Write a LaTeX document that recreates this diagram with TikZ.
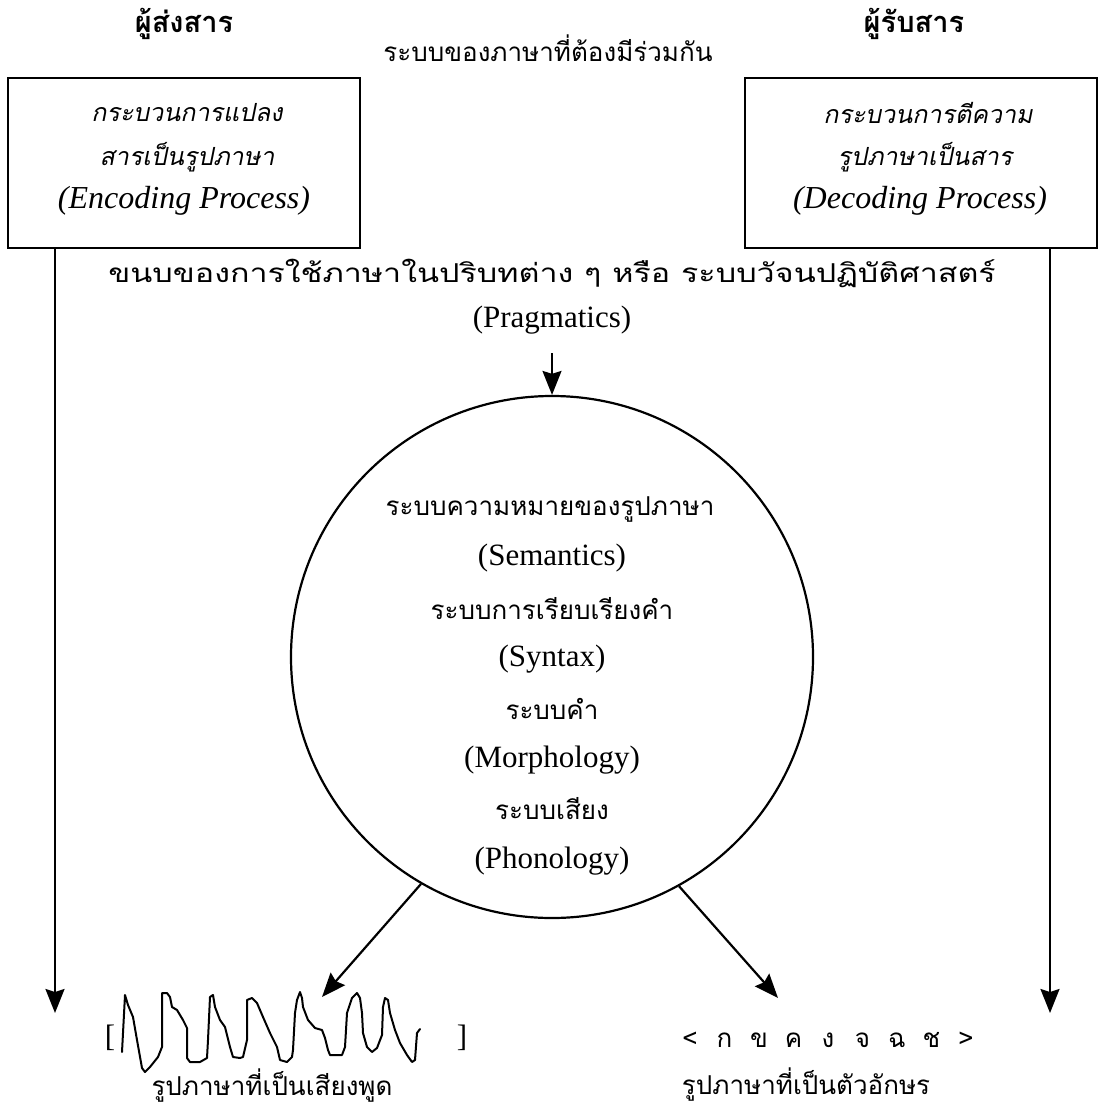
\documentclass[tikz,border=0pt]{standalone}
\usepackage{fontspec}
\setmainfont{Liberation Serif}
\newfontfamily\thai[Script=Thai]{Loma}
\newfontfamily\thaiit[Script=Thai,FakeSlant=0.2]{Loma}
\usetikzlibrary{arrows.meta}
\begin{document}
\begin{tikzpicture}[x=1pt,y=-1pt,
  th/.style={font=\thai\fontsize{26}{30}\selectfont,inner sep=0pt},
  thit/.style={font=\thaiit\fontsize{25}{30}\selectfont,inner sep=0pt},
  en/.style={font=\fontsize{31}{35}\selectfont,inner sep=0pt},
  enit/.style={font=\itshape\fontsize{32}{36}\selectfont,inner sep=0pt},
  ttl/.style={font=\thai\bfseries\fontsize{29}{33}\selectfont,inner sep=0pt},
  procbox/.style={draw,line width=2pt,minimum width=352pt,minimum height=170pt,inner sep=0pt},
  arr/.style={line width=2.2pt,-{Stealth[length=24pt,width=19pt,inset=3pt]}},
  wave/.style={line width=2pt,line join=round,line cap=round}]
\useasboundingbox (0,0) rectangle (1105,1108);
\fill[white] (0,0) rectangle (1105,1108);

% titles
\node[ttl] (sender) at (184,24) {ผู้ส่งสาร};
\node[ttl] (receiver) at (914,24) {ผู้รับสาร};
\node[th] (shared) at (548,48) {ระบบของภาษาที่ต้องมีร่วมกัน};

% boxes
\node[procbox] (enc) at (184,163) {};
\node[procbox] (dec) at (921,163) {};
\node[thit] (enc1) at (187,113) {กระบวนการแปลง};
\node[thit] (enc2) at (187,157) {สารเป็นรูปภาษา};
\node[enit] (enc3) at (184,201) {(Encoding Process)};
\node[thit] (dec1) at (928,113) {กระบวนการตีความ};
\node[thit] (dec2) at (925,157) {รูปภาษาเป็นสาร};
\node[enit] (dec3) at (920,201) {(Decoding Process)};

% pragmatics
\node[th] (convent) at (552,273) {\scalebox{1.24}[1]{ขนบของการใช้ภาษาในปริบทต่าง ๆ หรือ ระบบวัจนปฏิบัติศาสตร์}};
\node[en] (prag) at (552,320) {(Pragmatics)};

% circle
\node[draw,circle,line width=2.2pt,minimum size=522pt,inner sep=0pt] (sys) at (552,657) {};
\node[th] (sem1) at (550,509) {ระบบความหมายของรูปภาษา};
\node[en] (sem2) at (552,558) {(Semantics)};
\node[th] (syn1) at (552,609) {ระบบการเรียบเรียงคำ};
\node[en] (syn2) at (552,659) {(Syntax)};
\node[th] (mor1) at (552,709) {ระบบคำ};
\node[en] (mor2) at (552,760) {(Morphology)};
\node[th] (pho1) at (552,809) {ระบบเสียง};
\node[en] (pho2) at (552,861) {(Phonology)};

% arrows
\coordinate (pragtop) at (552,353);
\draw[arr] (pragtop) -- (sys.north);
\coordinate (ltip) at (55,1013);
\coordinate (rtip) at (1050,1013);
\draw[arr] (enc.south -| ltip) -- (ltip);
\draw[arr] (dec.south -| rtip) -- (rtip);
\coordinate (wtip) at (322,997);
\coordinate (atip) at (778,998);
\draw[arr] (sys.240.8) -- (wtip);
\draw[arr] (sys.299.2) -- (atip);

% speech wave
\node[en] (lbr) at (110,1038) {[};
\node[en] (rbr) at (462,1038) {]};
\draw[wave] plot coordinates {(122,1052) (125,995) (128,1005) (133,1017) (137,1040) (142,1068) (145,1072) (150,1067) (158,1057) (162,1047) (162,993) (167,993) (170,997) (172,1007) (177,1010) (183,1020) (187,1028) (187,1058) (190,1062) (200,1062) (207,1058) (208,1040) (210,997) (213,995) (215,1007) (220,1020) (225,1027) (230,1047) (233,1057) (240,1058) (243,1057) (247,1040) (247,1000) (252,998) (257,1003) (263,1017) (270,1033) (277,1047) (280,1060) (287,1062) (292,1057) (293,1050) (295,1013) (297,1000) (300,992) (302,998) (303,1007) (308,1020) (315,1028) (322,1030) (325,1038) (328,1050) (330,1055) (342,1055) (345,1047) (347,1013) (352,998) (357,993) (360,998) (362,1013) (363,1033) (367,1047) (372,1052) (377,1048) (382,1035) (383,1007) (385,998) (388,1000) (390,1013) (395,1030) (400,1043) (407,1055) (412,1062) (415,1060) (417,1033) (420,1029)};
\node[th] (speech) at (272,1086) {รูปภาษาที่เป็นเสียงพูด};

% letters
\foreach \c [count=\i from 0] in {<,ก,ข,ค,ง,จ,ฉ,ช,>}
  \node[th] (L\i) at (690+34.5*\i,1040) {\c};
\node[th] (writing) at (806,1085) {รูปภาษาที่เป็นตัวอักษร};
\end{tikzpicture}
\end{document}
